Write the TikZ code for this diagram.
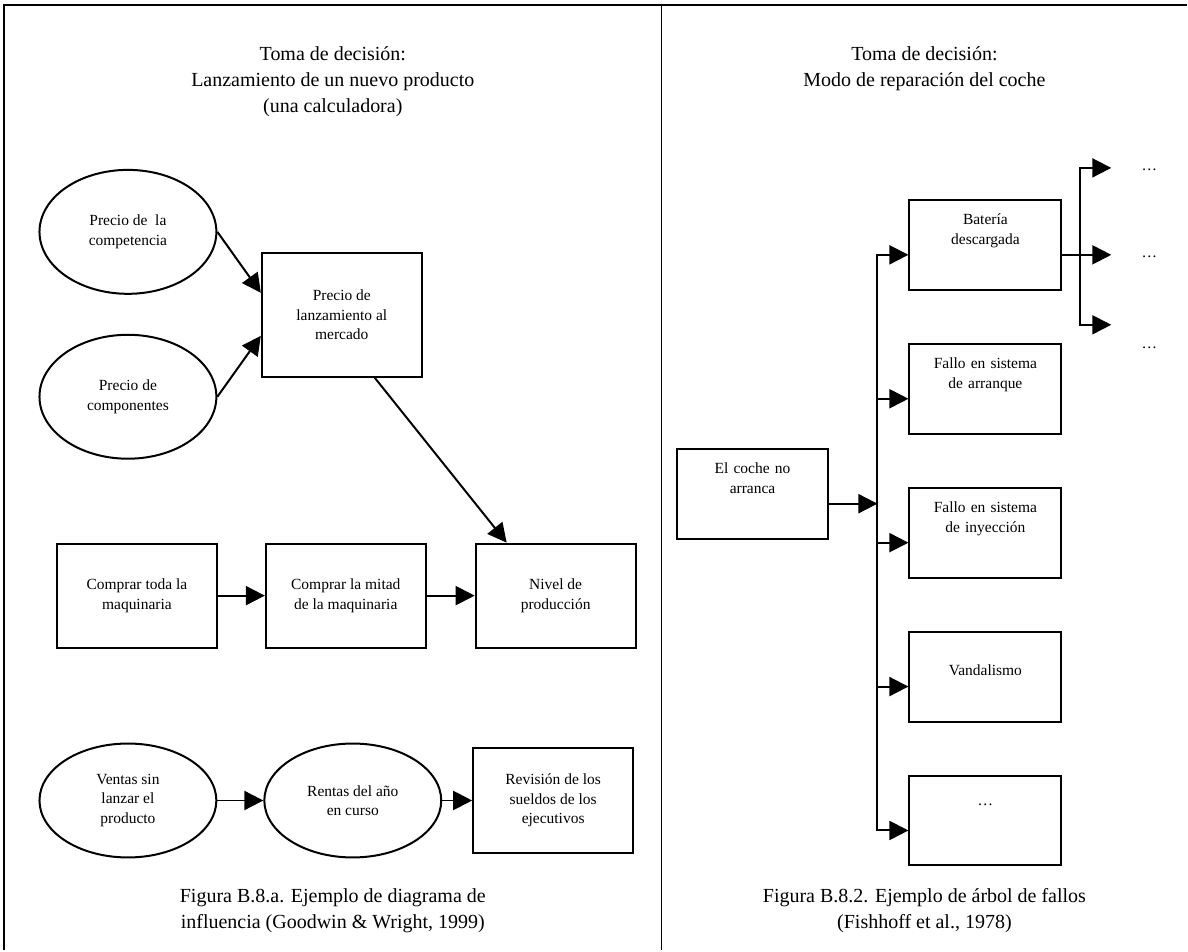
\documentclass[tikz,border=0pt]{standalone}
\usepackage{fontspec}
\setmainfont{Liberation Serif}
\usetikzlibrary{shapes.geometric,arrows.meta,positioning,calc}
\newcommand{\titlesize}{\fontsize{20}{26}\selectfont}
\newcommand{\boxsize}{\fontsize{15.5}{19.5}\selectfont}

\begin{document}
\begin{tikzpicture}[
    x=1pt, y=-1pt,
    node distance=48pt,
    every node/.style={font=\boxsize},
    heading/.style={align=center, font=\titlesize},
    decision/.style={rectangle, draw=black, line width=2pt, minimum width=160pt, minimum height=104pt, align=center, inner sep=2pt},
    chance/.style={ellipse, draw=black, line width=2pt, minimum width=177pt, minimum height=124pt, align=center, inner sep=1pt},
    fault/.style={rectangle, draw=black, line width=2pt, text width=148pt, align=center, minimum width=152pt, minimum height=90pt, inner sep=0pt, text height=25pt, text depth=65pt},
    frame/.style={line width=1.5pt},
    link/.style={line width=2pt, line cap=rect},
    arrow/.style={->, >={Triangle[length=19pt, width=19pt]}, line width=2pt}
]

% Frame and divider
\draw[frame] (1188,5) -- (4,5) -- (4,951);
\draw[frame] (662,5) -- (662,951);

% Titles
\node[heading] (T1) at (333,82) {Toma de decisión:\\Lanzamiento de un nuevo producto\\(una calculadora)};
\node[heading] (T2) at (925,69) {Toma de decisión:\\Modo de reparación del coche};

% Influence diagram - top group
\node[chance] (C1) at (128,232) {Precio de~ la\\competencia};
\node[chance] (C2) at (128,397) {Precio de\\componentes};
\node[decision, minimum height=124pt] (P) at (342,315) {Precio de\\lanzamiento al\\mercado};

% Influence diagram - machinery row
\node[decision] (M1) at (137,596) {Comprar toda la\\maquinaria};
\node[decision, right=47pt of M1] (M2) {Comprar la mitad\\de la maquinaria};
\node[decision, right=48pt of M2] (M3) {Nivel de\\producción};

% Influence diagram - bottom row
\node[chance, minimum height=114pt] (V1) at (128,801) {Ventas sin\\lanzar el\\producto};
\node[chance, minimum height=114pt, right=46pt of V1] (V2) {Rentas del año\\en curso};
\node[decision, minimum height=105pt, right=30pt of V2] (R) {Revisión de los\\sueldos de los\\ejecutivos};

% Captions
\node[heading] (L1) at (333,911) {Figura B.8.a. Ejemplo de diagrama de\\influencia (Goodwin \& Wright, 1999)};
\node[heading] (L2) at (925,911) {Figura B.8.2. Ejemplo de árbol de fallos\\(Fishhoff et al., 1978)};

% Fault tree
\node[fault] (E) at (753,494) {El coche no\\arranca};
\node[fault] (F1) at (986,245) {Batería\\descargada};
\node[fault, below=52pt of F1] (F2) {Fallo en sistema\\de arranque};
\node[fault, below=52pt of F2] (F3) {Fallo en sistema\\de inyección};
\node[fault, below=52pt of F3, text height=44pt, text depth=46pt] (F4) {Vandalismo};
\node[fault, below=52pt of F4, text height=30pt, text depth=60pt] (F5) {\ldots};

% Second level of the tree
\coordinate (trunk) at (878,0);
\coordinate (fork) at (1081,0);
\coordinate (K1) at (1112,168);
\coordinate (K3) at (1112,325);
\node[anchor=base] (D1) at (1150,171) {\ldots};
\node[anchor=base] (D2) at (1150,258) {\ldots};
\node[anchor=base] (D3) at (1150,349) {\ldots};

% Arrows - influence diagram
\draw[arrow] (C1.east) -- ([yshift=22pt]P.west);
\draw[arrow] (C2.east) -- ([yshift=-21pt]P.west);
\draw[arrow] ([xshift=33pt]P.south) -- ([xshift=-49pt]M3.north);
\draw[arrow] (M1) -- (M2);
\draw[arrow] (M2) -- (M3);
\draw[arrow] (V1) -- (V2);
\draw[arrow] (V2.east) -- (V2.east -| R.west);

% Arrows - fault tree
\draw[arrow] ([yshift=-10pt]E.east) -- ([yshift=-10pt]E.east -| trunk);
\draw[link] ([yshift=-10pt]F1.west -| trunk) -- ([yshift=-10pt]F5.west -| trunk);
\draw[arrow] ([yshift=-10pt]F1.west -| trunk) -- ([yshift=-10pt]F1.west);
\draw[arrow] ([yshift=-10pt]F2.west -| trunk) -- ([yshift=-10pt]F2.west);
\draw[arrow] ([yshift=-10pt]F3.west -| trunk) -- ([yshift=-10pt]F3.west);
\draw[arrow] ([yshift=-10pt]F4.west -| trunk) -- ([yshift=-10pt]F4.west);
\draw[arrow] ([yshift=-10pt]F5.west -| trunk) -- ([yshift=-10pt]F5.west);
\draw[link] ([yshift=-10pt]F1.east) -- ([yshift=-10pt]F1.east -| fork);
\draw[link] (K1 -| fork) -- (K3 -| fork);
\draw[arrow] (K1 -| fork) -- (K1);
\draw[arrow] ([yshift=-10pt]F1.east -| fork) -- ([yshift=-10pt]F1.east -| K1);
\draw[arrow] (K3 -| fork) -- (K3);

\useasboundingbox (0,0) rectangle (1188,951);
\end{tikzpicture}
\end{document}
